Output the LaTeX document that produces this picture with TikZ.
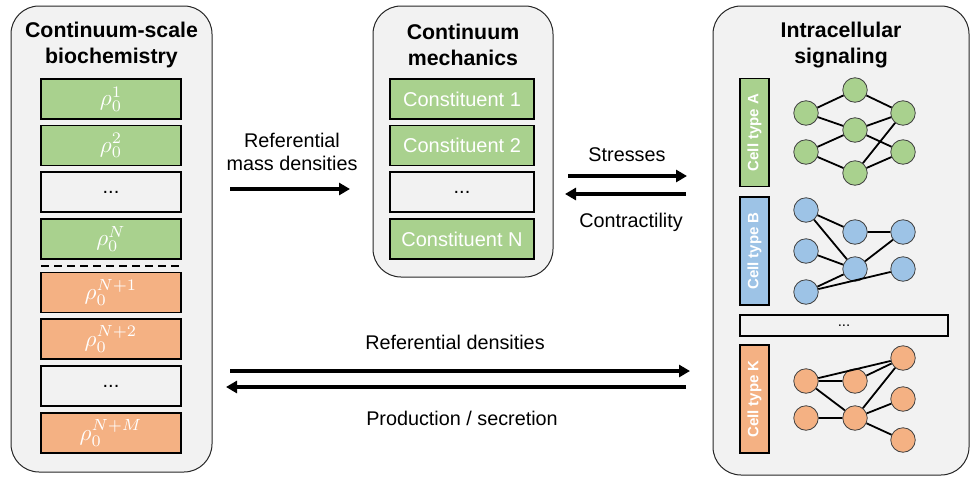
\documentclass[tikz,border=0pt]{standalone}
\usepackage{graphicx}
\usepackage{fontspec}
\setmainfont{Liberation Sans}
\usetikzlibrary{arrows.meta}
\definecolor{panelgray}{HTML}{F2F2F2}
\definecolor{cgreen}{HTML}{A9D18E}
\definecolor{corange}{HTML}{F4B183}
\definecolor{cblue}{HTML}{9DC3E6}
\newcommand{\rhom}[1]{\scalebox{2.3}{\normalsize$\rho_0^{#1}$}}
\tikzset{
  panel/.style={draw=black!85, fill=panelgray, line width=1pt, rounded corners=28pt, inner sep=0pt},
  ttl/.style={font=\fontsize{21.3}{26}\selectfont\bfseries, align=center},
  lbl/.style={font=\fontsize{19.8}{23}\selectfont, align=center},
  box/.style={draw=black, line width=1.3pt, inner sep=0pt, text=white},
  lbox/.style={box, minimum width=140pt, minimum height=40pt, font=\fontsize{20}{22}\selectfont},
  mbox/.style={box, minimum width=144pt, minimum height=40pt, font=\fontsize{20}{22}\selectfont},
  cbox/.style={box, minimum width=108pt, minimum height=29pt, rotate=90, font=\fontsize{15}{18}\selectfont\bfseries},
  dotsbox/.style={fill=panelgray, text=black},
  nn/.style={circle, draw=black!75, line width=0.8pt, minimum size=24.5pt, inner sep=0pt},
  ed/.style={line width=1.8pt, black},
  bigarrow/.style={line width=3.5pt, -{Triangle[length=11pt,width=12pt]}},
}
\begin{document}
\begin{tikzpicture}[x=1pt,y=-1pt]
\useasboundingbox (0,0) rectangle (971,477);
% panels
\node[panel, minimum width=201pt, minimum height=466pt] (lp) at (111.5,239) {};
\node[panel, minimum width=180pt, minimum height=271pt] (mp) at (463,141.5) {};
\node[panel, minimum width=256pt, minimum height=469pt] (rp) at (841,240.5) {};
% titles
\node[ttl] (lt) at (111.5,45) {Continuum-scale\\biochemistry};
\node[ttl] (mt) at (463,45) {Continuum\\mechanics};
\node[ttl] (rt) at (841,45) {Intracellular\\signaling};
% left boxes
\node[lbox, fill=cgreen] (r1) at (111,99) {\rhom{1}};
\node[lbox, fill=cgreen] (r2) at (111,145.5) {\rhom{2}};
\node[lbox, dotsbox] (r3) at (111,192) {...};
\node[lbox, fill=cgreen] (r4) at (111,239) {\rhom{N}};
\coordinate (dl) at (41,266);
\coordinate (dr) at (181,266);
\draw[line width=1.8pt, dash pattern=on 8pt off 5pt] (dl) -- (dr);
\node[lbox, fill=corange] (r5) at (111,292.5) {\rhom{N+1}};
\node[lbox, fill=corange] (r6) at (111,339) {\rhom{N+2}};
\node[lbox, dotsbox] (r7) at (111,386) {...};
\node[lbox, fill=corange] (r8) at (111,433) {\rhom{N+M}};
% middle boxes
\node[mbox, fill=cgreen] (c1) at (462,99) {Constituent 1};
\node[mbox, fill=cgreen] (c2) at (462,145.5) {Constituent 2};
\node[mbox, dotsbox] (c3) at (462,192) {...};
\node[mbox, fill=cgreen] (c4) at (462,239) {Constituent N};
% right: cell type boxes
\node[cbox, fill=cgreen] (ca) at (754.5,132.5) {Cell type A};
\node[cbox, fill=cblue] (cb) at (754.5,251) {Cell type B};
\node[cbox, fill=corange] (ck) at (754.5,399) {Cell type K};
\node[box, dotsbox, minimum width=208pt, minimum height=21pt, line width=1.1pt, font=\fontsize{15}{18}\selectfont] (cd) at (844,325.5) {...};
% network A
\node[nn, fill=cgreen] (a1) at (806,113) {};
\node[nn, fill=cgreen] (a2) at (806,152) {};
\node[nn, fill=cgreen] (a3) at (855,90) {};
\node[nn, fill=cgreen] (a4) at (855,130) {};
\node[nn, fill=cgreen] (a5) at (855,173) {};
\node[nn, fill=cgreen] (a6) at (903,113) {};
\node[nn, fill=cgreen] (a7) at (903,152) {};
\draw[ed] (a1)--(a3) (a1)--(a4) (a2)--(a4) (a2)--(a5)
          (a3)--(a6) (a4)--(a6) (a4)--(a7) (a5)--(a6) (a5)--(a7);
% network B
\node[nn, fill=cblue] (b1) at (806,210) {};
\node[nn, fill=cblue] (b2) at (806,251) {};
\node[nn, fill=cblue] (b3) at (806,292) {};
\node[nn, fill=cblue] (b4) at (855,232) {};
\node[nn, fill=cblue] (b5) at (855,269) {};
\node[nn, fill=cblue] (b6) at (903,232) {};
\node[nn, fill=cblue] (b7) at (903,269) {};
\draw[ed] (b1)--(b4) (b1)--(b5) (b2)--(b5) (b3)--(b5) (b3)--(b7)
          (b4)--(b6) (b5)--(b6);
% network K
\node[nn, fill=corange] (k1) at (806,381) {};
\node[nn, fill=corange] (k2) at (806,418) {};
\node[nn, fill=corange] (k3) at (855,381) {};
\node[nn, fill=corange] (k4) at (855,418) {};
\node[nn, fill=corange] (k5) at (903,358) {};
\node[nn, fill=corange] (k6) at (903,399) {};
\node[nn, fill=corange] (k7) at (903,440) {};
\draw[ed] (k1)--(k3) (k1)--(k5) (k1)--(k4) (k2)--(k4)
          (k3)--(k5) (k4)--(k5) (k4)--(k6) (k4)--(k7);
% arrows and labels
\node[lbl] (t1) at (292,151.5) {Referential\\mass densities};
\coordinate (p1) at (230,189); \coordinate (p2) at (350,189);
\draw[bigarrow] (p1) -- (p2);
\node[lbl] (t2) at (627,155) {Stresses};
\coordinate (s1) at (568,176); \coordinate (s2) at (687,176);
\draw[bigarrow] (s1) -- (s2);
\coordinate (q1) at (686,194); \coordinate (q2) at (565,194);
\draw[bigarrow] (q1) -- (q2);
\node[lbl] (t3) at (631,222) {Contractility};
\node[lbl] (t4) at (455,342) {Referential densities};
\coordinate (u1) at (230,371); \coordinate (u2) at (690,371);
\draw[bigarrow] (u1) -- (u2);
\coordinate (v1) at (686,387); \coordinate (v2) at (226,387);
\draw[bigarrow] (v1) -- (v2);
\node[lbl] (t5) at (462,418) {Production / secretion};
\end{tikzpicture}
\end{document}
